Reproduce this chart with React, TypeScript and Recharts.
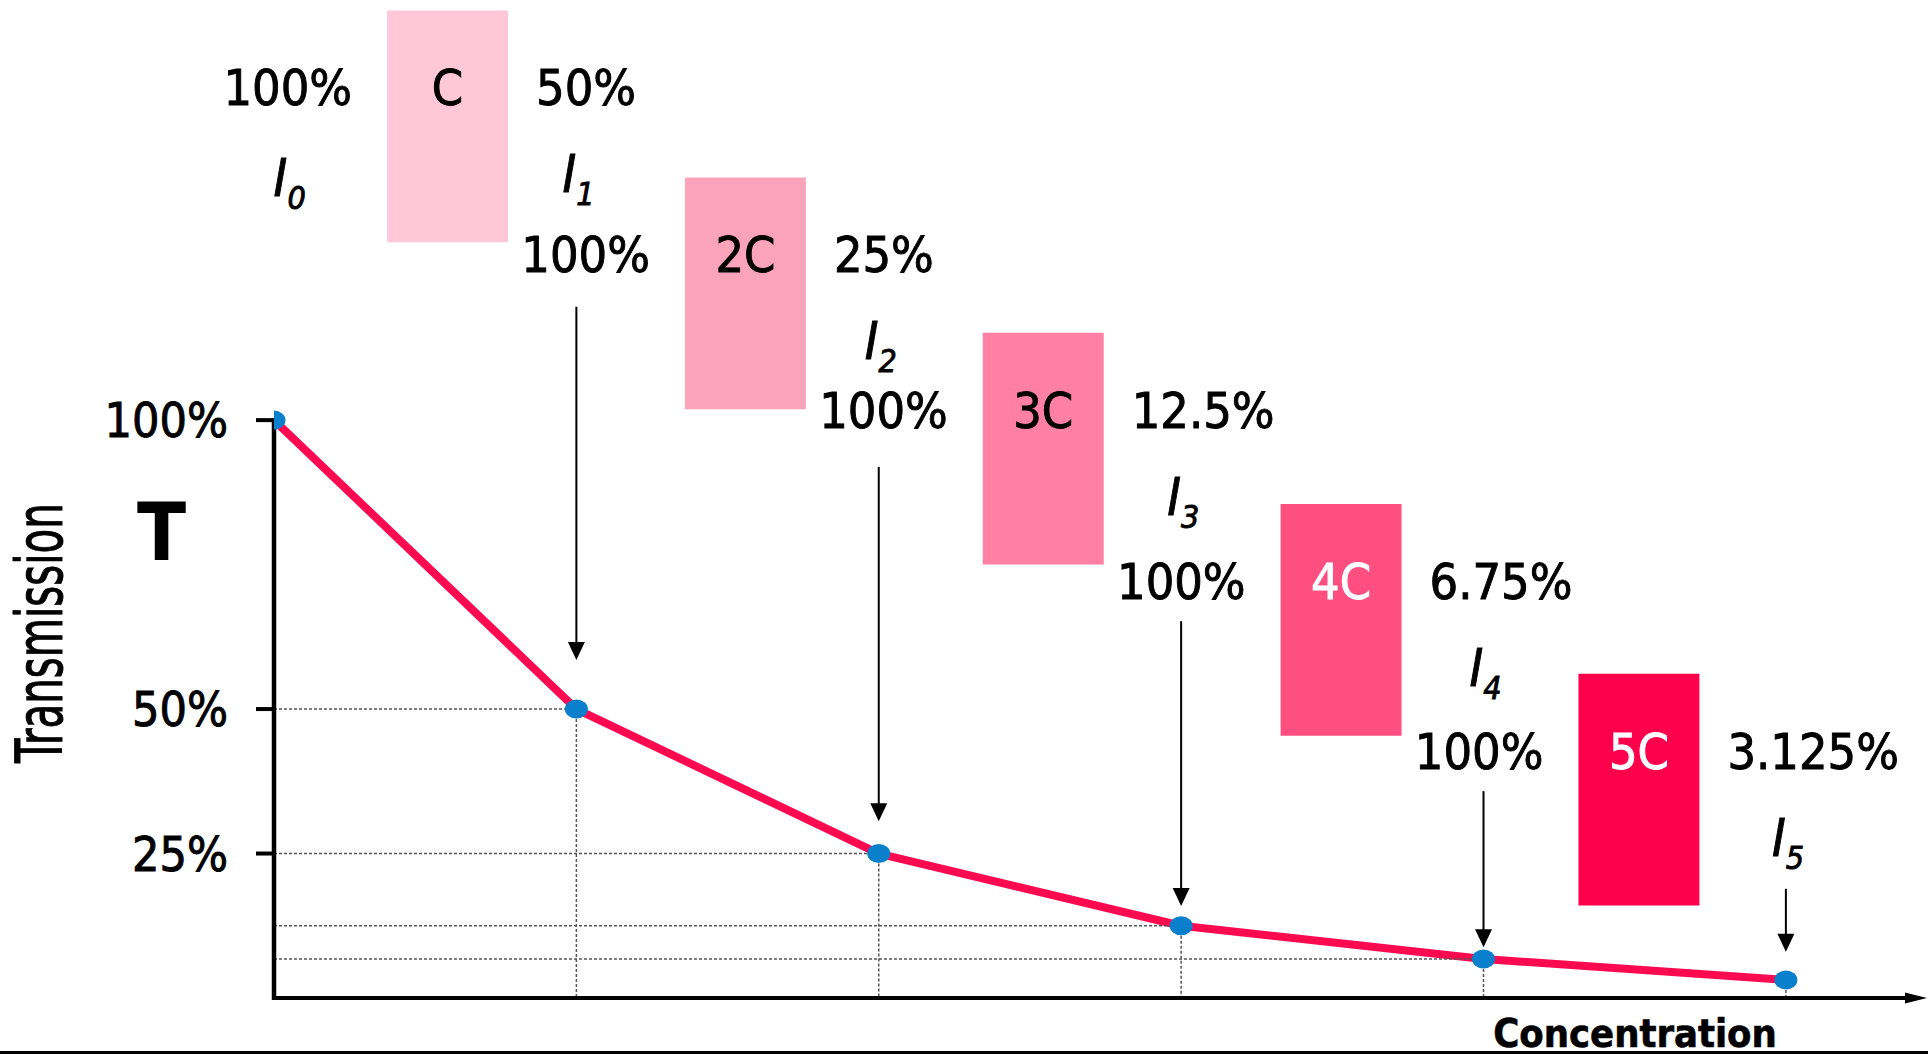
import React from 'react';
import { LineChart, Line, XAxis, YAxis, ReferenceLine, ReferenceArea, ReferenceDot } from 'recharts';

// concentration steps (0, C, 2C ... 5C) and measured transmission in %
const CONCENTRATION = [0, 1, 2, 3, 4, 5];
const TRANSMISSION = [100, 50, 25, 12.5, 6.75, 3.125];

const Y_TICKS = [25, 50, 100];
const CELL_LABELS = ['C', '2C', '3C', '4C', '5C'];
const INCIDENT_LABEL = '100%';
const OUT_LABELS = ['50%', '25%', '12.5%', '6.75%', '3.125%'];
const INTENSITY_SUBS = ['0', '1', '2', '3', '4', '5'];

// arrow start / tip, in transmission units
const ARROW_TOP = [119.6, 91.9, 65.2, 35.8, 18.9];
const ARROW_TIP = [58.5, 30.6, 15.9, 8.8, 8.0];

const CELL_FILL = ['#FFC8D9', '#FCA3BC', '#FF80A4', '#FF4F80', '#FF004D'];
const CELL_TEXT = ['#000', '#000', '#000', '#fff', '#fff'];

const FONT = "'DejaVu Sans Condensed', 'DejaVu Sans', sans-serif";
const LINE_RED = '#FF0A50';
const DOT_BLUE = '#0A7FCC';
const GRID = '#555';

// cell layout in axis units
const CELL_W = 0.4;
const CELL_H = 40.1;
const CELL_TOP = [170.9, 142.0, 115.1, 85.5, 56.1];
const cellLeft = (i: number) => 0.374 + 0.985 * i;

const data = CONCENTRATION.map((c, i) => ({ c, t: TRANSMISSION[i] }));

const txt = (x: number, y: number, s: string, anchor: string, fill = '#000', size = 50) => (
  <text
    x={x}
    y={y}
    textAnchor={anchor as any}
    fontFamily={FONT}
    fontSize={size}
    fill={fill}
    stroke={fill}
    strokeWidth={0.9}
  >
    {s}
  </text>
);

const Dot = (props: any) => {
  const { cx, cy, index } = props;
  return <ellipse key={`d-${index}`} cx={cx} cy={cy} rx={11.5} ry={9.5} fill={DOT_BLUE} />;
};

const XAxisLine = (p: any) => (
  <g>
    <line x1={p.x1} y1={p.y1} x2={p.x2 - 18} y2={p.y2} stroke="#000" strokeWidth={4} />
    <polygon points={`${p.x2 - 23},${p.y2 - 5.5} ${p.x2 - 1},${p.y2} ${p.x2 - 23},${p.y2 + 5.5}`} fill="#000" />
    <text x={p.x2 - 293} y={p.y2 + 48.5} textAnchor="middle" fontFamily={FONT} fontWeight="bold" fontSize={39.5} fill="#000" stroke="#000" strokeWidth={0.6}>
      Concentration
    </text>
  </g>
);

const YAxisLine = (p: any) => {
  // p.y1 = 0 %, p.y2 = 100 %
  return (
    <g>
      <line x1={p.x1} y1={p.y1 + 2} x2={p.x2} y2={p.y2} stroke="#000" strokeWidth={4.5} />
      <text
        transform={`translate(${p.x1 - 212}, ${p.y2 + 213}) rotate(-90) scale(0.7, 1)`}
        textAnchor="middle"
        fontFamily={FONT}
        fontSize={64}
        fill="#000"
        stroke="#000"
        strokeWidth={1}
      >
        Transmission
      </text>
      <text x={p.x1 - 112.5} y={p.y2 + 140} textAnchor="middle" fontFamily={FONT} fontWeight="bold" fontSize={80} fill="#000">
        T
      </text>
    </g>
  );
};

const Arrow = (p: any) => (
  <g>
    <line x1={p.x1} y1={p.y1} x2={p.x2} y2={p.y2 - 17} stroke="#000" strokeWidth={2} />
    <polygon points={`${p.x2 - 8.5},${p.y2 - 18} ${p.x2 + 8.5},${p.y2 - 18} ${p.x2},${p.y2}`} fill="#000" />
  </g>
);

const intensity = (sub: string, dyBase: number) => (p: any) => (
  <text x={p.cx - 14} y={p.cy + dyBase} fontFamily={FONT} fontStyle="italic" fontSize={52} fill="#000" stroke="#000" strokeWidth={0.9}>
    I
    <tspan fontSize={32} dy={13}>
      {sub}
    </tspan>
  </text>
);

const App = () => {
  return (
    <div style={{ position: 'absolute', left: 0, top: 0, width: 1928, height: 1055, background: '#fff' }}>
      <LineChart width={1928} height={1055} data={data} margin={{ top: 0, right: 0, bottom: 57, left: 74 }}>
        <XAxis dataKey="c" type="number" domain={[0, 5.47]} hide allowDataOverflow />
        <YAxis
          type="number"
          domain={[0, 172.7]}
          ticks={Y_TICKS}
          interval={0}
          width={200}
          axisLine={false}
          tickSize={18}
          tickMargin={28}
          tickLine={{ stroke: '#000', strokeWidth: 4 }}
          tickFormatter={(v: number) => `${v}%`}
          tick={{ fontSize: 48, fill: '#000', fontFamily: FONT, stroke: '#000', strokeWidth: 0.9 }}
          allowDataOverflow
        />

        {CELL_LABELS.map((_, i) => (
          <ReferenceArea
            key={`cell-${i}`}
            x1={cellLeft(i)}
            x2={cellLeft(i) + CELL_W}
            y1={CELL_TOP[i] - CELL_H}
            y2={CELL_TOP[i]}
            fill={CELL_FILL[i]}
            fillOpacity={1}
            stroke="none"
            ifOverflow="visible"
          />
        ))}

        <Line
          dataKey="t"
          type="linear"
          stroke={LINE_RED}
          strokeWidth={8}
          strokeLinejoin="round"
          dot={Dot}
          activeDot={false}
          isAnimationActive={false}
        />

        {TRANSMISSION.slice(1, 5).map((t, k) => (
          <ReferenceLine
            key={`h-${k}`}
            segment={[{ x: 0, y: t }, { x: CONCENTRATION[k + 1], y: t }]}
            stroke={GRID}
            strokeWidth={1.5}
            strokeDasharray="3 2"
            ifOverflow="visible"
          />
        ))}
        {TRANSMISSION.slice(1).map((t, k) => (
          <ReferenceLine
            key={`v-${k}`}
            segment={[{ x: CONCENTRATION[k + 1], y: t }, { x: CONCENTRATION[k + 1], y: 0 }]}
            stroke={GRID}
            strokeWidth={1.5}
            strokeDasharray="3 2"
            ifOverflow="visible"
          />
        ))}

        <ReferenceLine segment={[{ x: 0, y: 0 }, { x: 5.47, y: 0 }]} ifOverflow="visible" shape={XAxisLine} />
        <ReferenceLine segment={[{ x: 0, y: 0 }, { x: 0, y: 100 }]} ifOverflow="visible" shape={YAxisLine} />

        {ARROW_TOP.map((top, k) => (
          <ReferenceLine
            key={`a-${k}`}
            segment={[{ x: CONCENTRATION[k + 1], y: top }, { x: CONCENTRATION[k + 1], y: ARROW_TIP[k] }]}
            ifOverflow="visible"
            shape={Arrow}
          />
        ))}

        {CELL_LABELS.map((s, i) => (
          <ReferenceDot
            key={`in-${i}`}
            x={cellLeft(i)}
            y={CELL_TOP[i]}
            r={0}
            ifOverflow="visible"
            shape={(p: any) => txt(p.cx - 35, p.cy + 95, INCIDENT_LABEL, 'end')}
          />
        ))}
        {CELL_LABELS.map((s, i) => (
          <ReferenceDot
            key={`cl-${i}`}
            x={cellLeft(i) + CELL_W / 2}
            y={CELL_TOP[i]}
            r={0}
            ifOverflow="visible"
            shape={(p: any) => txt(p.cx, p.cy + 95, s, 'middle', CELL_TEXT[i])}
          />
        ))}
        {OUT_LABELS.map((s, i) => (
          <ReferenceDot
            key={`out-${i}`}
            x={cellLeft(i) + CELL_W}
            y={CELL_TOP[i]}
            r={0}
            ifOverflow="visible"
            shape={(p: any) => txt(p.cx + 28, p.cy + 95, s, 'start')}
          />
        ))}
        {INTENSITY_SUBS.map((sub, k) => (
          <ReferenceDot
            key={`i-${k}`}
            x={k === 0 ? 0.045 : CONCENTRATION[k]}
            y={CELL_TOP[Math.max(k - 1, 0)]}
            r={0}
            ifOverflow="visible"
            shape={intensity(sub, k === 0 ? 185.5 : 182)}
          />
        ))}
      </LineChart>
      <div style={{ position: 'absolute', left: 0, top: 1051, width: 1928, height: 3, background: '#000' }} />
    </div>
  );
};

export default App;
